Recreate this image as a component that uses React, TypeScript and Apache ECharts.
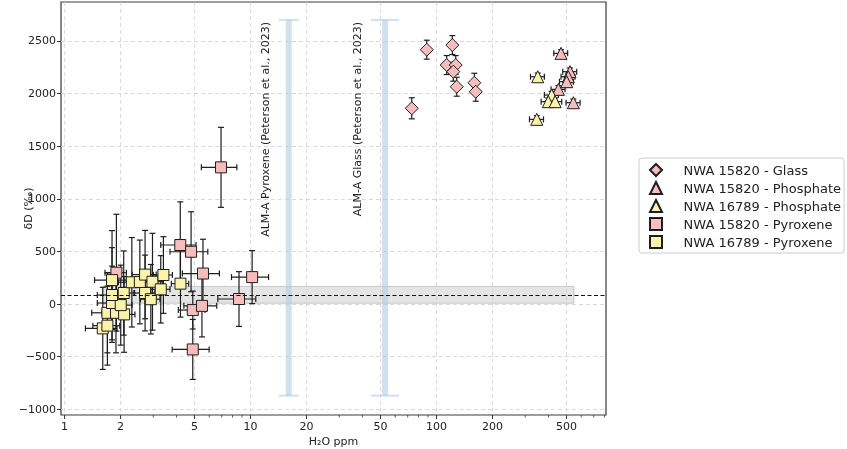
import React, { useEffect, useRef } from "react";
import * as echarts from "echarts";

// axis extents
const X_MIN = 0.957;
const X_MAX = 815;
const Y_MIN = -1054;
const Y_MAX = 2870;

const xMajor = [1, 2, 5, 10, 20, 50, 100, 200, 500];
const xMinor = [3, 4, 6, 7, 8, 9, 30, 40, 60, 70, 80, 90, 300, 400, 600, 700, 800];
const yTicks = [-1000, -500, 0, 500, 1000, 1500, 2000, 2500];

// NWA 15820 - Glass
const glassX = [88.6, 121.6, 113.4, 126.8, 123.1, 128.4, 159.7, 162.5, 73.6];
const glassY = [2417, 2461, 2271, 2271, 2208, 2065, 2103, 2017, 1860];
const glassXErr = [0, 0, 0, 0, 0, 0, 0, 0, 0];
const glassYErr = [90, 90, 90, 90, 90, 90, 90, 90, 100];

// NWA 15820 - Phosphate
const phosAX = [467, 522, 511, 501, 452, 544];
const phosAY = [2382, 2208, 2160, 2113, 2040, 1913];
const phosAXErr = [40, 45, 44, 43, 39, 47];
const phosAYErr = [35, 35, 35, 35, 35, 35];

// NWA 16789 - Phosphate
const phosBX = [350, 416, 399, 434, 346];
const phosBY = [2160, 1986, 1923, 1923, 1755];
const phosBXErr = [30, 36, 34, 37, 30];
const phosBYErr = [35, 35, 35, 35, 35];

// NWA 15820 - Pyroxene
const pyxAX = [6.94, 4.19, 4.79, 5.55, 1.9, 8.67, 10.2, 4.89, 5.48, 4.89];
const pyxAY = [1299, 561, 497, 290, 298, 48, 256, -57, -17, -431];
const pyxAXErr = [1.5, 0.9, 1.1, 1.25, 0.25, 2.0, 2.3, 0.8, 1.1, 1.1];
const pyxAYErr = [380, 410, 380, 326, 555, 260, 252, 180, 295, 285];

// NWA 16789 - Pyroxene
const pyxBX = [1.605, 1.7, 1.7, 1.89, 2.09, 1.8, 2.005, 1.8, 2.08, 1.8, 2.3, 2.54, 2.71, 2.71, 2.97, 2.91, 3.29, 3.4, 4.2];
const pyxBY = [-231, -205, -83, -83, -98, 10, -10, 86, 105, 228, 207, 210, 280, 105, 212, 46, 140, 276, 194];
const pyxBXErr = [0.31, 0.28, 0.3, 0.3, 0.3, 0.3, 0.3, 0.3, 0.3, 0.35, 0.35, 0.35, 0.4, 0.35, 0.4, 0.35, 0.4, 0.4, 0.45];
const pyxBYErr = [390, 375, 380, 380, 360, 350, 380, 450, 400, 470, 425, 398, 420, 360, 460, 330, 320, 364, 318];

// ALM-A reference ranges
const almNames = ["ALM-A Pyroxene (Peterson et al., 2023)", "ALM-A Glass (Peterson et al., 2023)"];
const almX = [16.05, 52.9];
const almLow = [-870, -870];
const almHigh = [2700, 2700];
const almLabelX = [11.97, 37.4];
const almLabelY = 2680;

// terrestrial reference
const refLine = 88;
const refBandLow = 8;
const refBandHigh = 168;
const refBandX = [1.6, 548];

const PINK = "#f7bdbd";
const YELLOW = "#fbf3a9";
const EDGE = "#1e1e1e";

const zip = (xs: number[], ys: number[], xe: number[], ye: number[]) =>
  xs.map((x, i) => [x, ys[i], xe[i], ye[i]]);

const CAP = 3;
const renderErr = (_params: any, api: any) => {
  const x = api.value(0);
  const y = api.value(1);
  const xe = api.value(2);
  const ye = api.value(3);
  const c = api.coord([x, y]);
  const st = { stroke: EDGE, lineWidth: 1.2 };
  const children: any[] = [];
  if (ye > 0) {
    const top = api.coord([x, y + ye])[1];
    const bot = api.coord([x, y - ye])[1];
    children.push({ type: "line", shape: { x1: c[0], y1: top, x2: c[0], y2: bot }, style: st });
    children.push({ type: "line", shape: { x1: c[0] - CAP, y1: top, x2: c[0] + CAP, y2: top }, style: st });
    children.push({ type: "line", shape: { x1: c[0] - CAP, y1: bot, x2: c[0] + CAP, y2: bot }, style: st });
  }
  if (xe > 0) {
    const l = api.coord([x - xe, y])[0];
    const r = api.coord([x + xe, y])[0];
    children.push({ type: "line", shape: { x1: l, y1: c[1], x2: r, y2: c[1] }, style: st });
    children.push({ type: "line", shape: { x1: l, y1: c[1] - CAP, x2: l, y2: c[1] + CAP }, style: st });
    children.push({ type: "line", shape: { x1: r, y1: c[1] - CAP, x2: r, y2: c[1] + CAP }, style: st });
  }
  return { type: "group", children };
};

const groups = [
  { name: "NWA 15820 - Glass", data: zip(glassX, glassY, glassXErr, glassYErr), symbol: "diamond", size: 13, color: PINK },
  { name: "NWA 15820 - Phosphate", data: zip(phosAX, phosAY, phosAXErr, phosAYErr), symbol: "triangle", size: 12, color: PINK },
  { name: "NWA 16789 - Phosphate", data: zip(phosBX, phosBY, phosBXErr, phosBYErr), symbol: "triangle", size: 12, color: YELLOW },
  { name: "NWA 15820 - Pyroxene", data: zip(pyxAX, pyxAY, pyxAXErr, pyxAYErr), symbol: "rect", size: 11, color: PINK },
  { name: "NWA 16789 - Pyroxene", data: zip(pyxBX, pyxBY, pyxBXErr, pyxBYErr), symbol: "rect", size: 11, color: YELLOW },
];

const App: React.FC = () => {
  const chartRef = useRef<HTMLDivElement>(null);

  useEffect(() => {
    if (!chartRef.current) return;
    const chart = echarts.init(chartRef.current, null, { renderer: "svg" });

    const series: any[] = [];

    // x grid lines, ticks and labels
    series.push({
      type: "custom",
      name: "xgrid",
      silent: true,
      z: 1,
      data: xMajor.map((v) => [v, Y_MIN]),
      renderItem: (_p: any, api: any) => {
        const v = api.value(0);
        const b = api.coord([v, Y_MIN]);
        const t = api.coord([v, Y_MAX]);
        return {
          type: "group",
          children: [
            { type: "line", shape: { x1: b[0], y1: t[1], x2: b[0], y2: b[1] }, style: { stroke: "#d0d0d0", lineWidth: 0.8, lineDash: [4, 3] } },
            { type: "line", shape: { x1: b[0], y1: b[1], x2: b[0], y2: b[1] + 4 }, style: { stroke: "#333", lineWidth: 1 } },
            { type: "text", x: b[0], y: b[1] + 6, style: { text: String(v), fill: "#222", font: "11px 'DejaVu Sans'", align: "center", verticalAlign: "top" } },
          ],
        };
      },
    });
    series.push({
      type: "custom",
      name: "xminor",
      silent: true,
      z: 1,
      data: xMinor.map((v) => [v, Y_MIN]),
      renderItem: (_p: any, api: any) => {
        const b = api.coord([api.value(0), Y_MIN]);
        return { type: "line", shape: { x1: b[0], y1: b[1], x2: b[0], y2: b[1] + 2.5 }, style: { stroke: "#333", lineWidth: 0.8 } };
      },
    });

    // ALM-A ranges with reference band and line
    series.push({
      type: "custom",
      name: "alm",
      silent: true,
      z: 2,
      data: almX.map((x, i) => [x, almLow[i], almHigh[i], almLabelX[i]]),
      renderItem: (params: any, api: any) => {
        const x = api.value(0);
        const lo = api.coord([x, api.value(1)]);
        const hi = api.coord([x, api.value(2)]);
        const lab = api.coord([api.value(3), almLabelY]);
        const half = params.dataIndex === 0 ? 10 : 14;
        const col = "rgba(176, 203, 228, 0.6)";
        return {
          type: "group",
          children: [
            { type: "line", shape: { x1: lo[0], y1: lo[1], x2: hi[0], y2: hi[1] }, style: { stroke: col, lineWidth: 6 } },
            { type: "line", shape: { x1: hi[0] - half, y1: hi[1], x2: hi[0] + half, y2: hi[1] }, style: { stroke: col, lineWidth: 2 } },
            { type: "line", shape: { x1: lo[0] - half, y1: lo[1], x2: lo[0] + half, y2: lo[1] }, style: { stroke: col, lineWidth: 2 } },
            {
              type: "text",
              x: lab[0],
              y: lab[1],
              rotation: Math.PI / 2,
              style: { text: almNames[params.dataIndex], fill: "#222", font: "11px 'DejaVu Sans'", align: "right", verticalAlign: "middle" },
            },
          ],
        };
      },
      markArea: {
        silent: true,
        itemStyle: { color: "rgba(150,150,150,0.25)", borderColor: "rgba(120,120,120,0.35)", borderWidth: 1 },
        data: [[{ xAxis: refBandX[0], yAxis: refBandLow }, { xAxis: refBandX[1], yAxis: refBandHigh }]],
      },
      markLine: {
        silent: true,
        symbol: "none",
        label: { show: false },
        lineStyle: { color: "#111", type: [4, 2.5], width: 1.2 },
        data: [{ yAxis: refLine }],
      },
    });

    groups.forEach((g) => {
      series.push({
        type: "custom",
        name: g.name + " err",
        silent: true,
        z: 3,
        data: g.data,
        renderItem: renderErr,
      });
      series.push({
        type: "scatter",
        name: g.name,
        z: 3,
        data: g.data.map((d) => [d[0], d[1]]),
        symbol: g.symbol,
        symbolSize: g.size,
        itemStyle: { color: g.color, borderColor: EDGE, borderWidth: 1, opacity: 1 },
      });
    });

    const option: any = {
      animation: false,
      textStyle: { fontFamily: "DejaVu Sans" },
      grid: {
        left: 61,
        top: 2,
        width: 545,
        height: 413,
        containLabel: false,
        outerBoundsMode: "none",
        show: true,
        borderColor: "#3a3a3a",
        borderWidth: 1.2,
        backgroundColor: "transparent",
      },
      legend: {
        orient: "vertical",
        left: 639,
        top: 158,
        padding: [5, 3, 4, 10],
        itemGap: 4,
        itemWidth: 12,
        itemHeight: 12,
        backgroundColor: "#fff",
        borderColor: "#cccccc",
        borderWidth: 1,
        borderRadius: 3,
        textStyle: { fontSize: 13, lineHeight: 14, color: "#222", fontFamily: "DejaVu Sans" },
        formatter: (n: string) => "\u00a0\u00a0\u00a0\u00a0" + n,
        data: groups.map((g) => g.name),
      },
      xAxis: {
        type: "log",
        logBase: 10,
        min: X_MIN,
        max: X_MAX,
        name: "H\u2082O ppm",
        nameLocation: "middle",
        nameGap: 21,
        nameMoveOverlap: false,
        nameTextStyle: { fontSize: 11, color: "#222" },
        axisLine: { show: false },
        axisTick: { show: false },
        axisLabel: { show: false },
        splitLine: { show: false },
        minorTick: { show: false },
      },
      yAxis: {
        type: "value",
        min: Y_MIN,
        max: Y_MAX,
        name: "\u03b4D (\u2030)",
        nameLocation: "middle",
        nameGap: 27,
        nameMoveOverlap: false,
        nameTextStyle: { fontSize: 11, color: "#222" },
        axisLine: { show: false },
        axisTick: { show: true, length: 4, customValues: yTicks, lineStyle: { color: "#333" } },
        axisLabel: {
          customValues: yTicks,
          fontSize: 11,
          color: "#222",
          margin: 5,
          formatter: (v: number) => (v < 0 ? "\u2212" + Math.abs(v) : String(v)),
        },
        splitLine: { show: true, lineStyle: { color: "#d0d0d0", width: 0.8, type: [4, 3] } },
      },
      series,
    };

    chart.setOption(option);
    return () => {
      chart.dispose();
    };
  }, []);

  return <div ref={chartRef} style={{ position: "fixed", left: 0, top: 0, width: 847, height: 449 }} />;
};

export default App;
